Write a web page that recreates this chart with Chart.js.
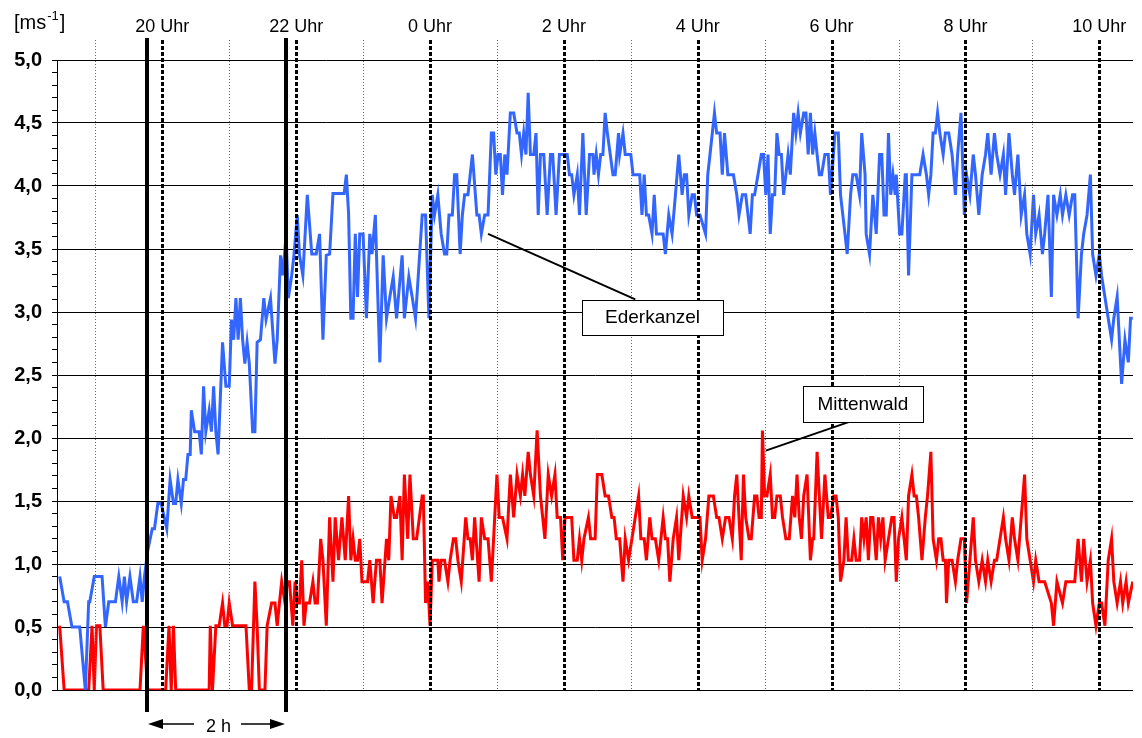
<!DOCTYPE html>
<html>
<head>
<meta charset="utf-8">
<script src="https://cdn.jsdelivr.net/npm/chart.js@4/dist/chart.umd.min.js"></script>
<style>
  html, body { margin: 0; padding: 0; background: #fff; }
  #wrap { width: 1142px; height: 738px; position: relative; }
</style>
</head>
<body>
<div id="wrap"><canvas id="c" width="1142" height="738"></canvas></div>
<script>
// Wind speed [m/s]; time in minutes relative to midnight (negative = previous evening)
const ederkanzel = [
  [-332,0.9],[-328,0.7],[-325,0.7],[-321,0.5],[-314,0.5],[-309,0],[-306,0.7],[-305,0.7],[-301,0.9],[-294,0.9],
  [-291,0.5],[-288,0.7],[-282,0.7],[-279,0.9],[-276,0.7],[-274,0.9],[-272,0.7],[-269,0.9],[-266,0.7],[-263,0.7],
  [-260,0.9],[-258,0.7],[-256,0.9],[-253,1.11],[-249,1.28],[-247,1.28],[-244,1.48],[-241,1.48],[-236,1.28],[-233,1.67],
  [-230,1.48],[-228,1.48],[-226,1.67],[-223,1.48],[-221,1.67],[-219,1.67],[-217,1.87],[-215,1.87],[-214,2.22],[-211,2.05],
  [-207,2.05],[-205,1.87],[-203,2.41],[-201,2.05],[-198,2.22],[-196,2.05],[-194,2.41],[-192,2.05],[-190,1.87],[-186,2.76],
  [-183,2.41],[-180,2.41],[-178,2.94],[-176,2.78],[-174,3.11],[-172,2.78],[-170,3.11],[-168,2.78],[-166,2.59],[-164,2.76],
  [-162,2.59],[-159,2.05],[-157,2.05],[-155,2.76],[-152,2.78],[-149,3.11],[-147,2.94],[-143,3.11],[-139,2.59],[-137,2.78],
  [-134,3.45],[-132,3.29],[-129,3.61],[-127,3.11],[-124,3.29],[-122,3.45],[-119,3.77],[-117,3.45],[-114,3.29],[-110,3.93],
  [-106,3.46],[-102,3.46],[-99,3.62],[-96,2.78],[-93,3.45],[-90,3.46],[-87,3.94],[-77,3.94],[-75,4.09],[-73,3.78],
  [-71,2.95],[-69,2.95],[-67,3.62],[-65,3.12],[-63,3.62],[-60,3.62],[-57,2.95],[-54,3.62],[-52,3.46],[-49,3.77],
  [-48,3.46],[-45,2.6],[-42,3.45],[-39,2.95],[-36,3.12],[-33,3.28],[-30,2.95],[-25,3.45],[-23,2.95],[-19,3.28],
  [-16,3.12],[-13,2.95],[-7,3.77],[-4,3.77],[-1,2.95],[2,3.93],[4,3.77],[7,3.93],[10,3.62],[13,3.46],
  [15,3.46],[17,3.77],[20,3.77],[22,4.09],[24,4.09],[27,3.46],[29,3.77],[31,3.93],[34,3.93],[38,4.25],
  [42,3.77],[44,3.77],[46,3.62],[49,3.77],[52,3.77],[55,4.42],[57,4.42],[59,4.09],[61,4.25],[63,4.25],
  [65,3.93],[67,4.25],[69,4.09],[72,4.58],[75,4.58],[78,4.42],[80,4.42],[82,4.25],[84,4.42],[86,4.25],
  [88,4.74],[90,4.25],[93,4.25],[95,4.42],[97,3.77],[99,4.25],[102,4.25],[105,3.77],[108,4.25],[110,4.25],
  [113,3.77],[116,4.25],[123,4.25],[125,4.09],[127,4.09],[129,3.93],[132,4.09],[134,3.77],[137,4.42],[140,3.77],
  [143,4.25],[146,4.25],[147,4.09],[149,4.25],[151,4.09],[153,4.25],[155,4.25],[157,4.58],[159,4.42],[164,4.09],
  [166,4.09],[169,4.42],[170,4.25],[173,4.42],[175,4.25],[180,4.25],[182,4.09],[188,4.09],[190,3.77],[192,4.09],
  [194,3.77],[196,3.77],[199,3.62],[201,3.93],[203,3.62],[209,3.62],[211,3.46],[214,3.77],[217,3.62],[220,3.93],
  [223,4.25],[226,3.93],[228,4.09],[230,4.09],[232,3.77],[235,3.93],[237,3.93],[239,3.77],[242,3.77],[247,3.62],
  [249,4.09],[251,4.25],[255,4.58],[257,4.42],[260,4.42],[262,4.09],[264,4.42],[267,4.09],[272,4.09],[275,3.93],
  [277,3.77],[280,3.93],[283,3.93],[287,3.62],[289,3.93],[291,3.93],[294,4.09],[297,4.25],[299,4.25],[301,3.93],
  [303,4.25],[305,3.62],[307,3.93],[309,3.93],[311,4.42],[313,4.25],[315,4.25],[317,3.93],[319,4.09],[321,4.25],
  [323,4.09],[326,4.58],[328,4.42],[330,4.58],[332,4.42],[335,4.58],[337,4.58],[339,4.25],[341,4.58],[343,4.25],
  [345,4.42],[347,4.25],[349,4.09],[351,4.09],[354,4.25],[357,4.25],[359,3.93],[363,4.42],[366,4.42],[368,3.93],
  [372,3.62],[374,3.46],[377,3.93],[379,4.09],[382,4.09],[385,3.93],[387,4.42],[390,4.09],[391,3.62],[394,3.46],
  [397,3.93],[400,3.62],[403,4.25],[405,4.25],[407,3.77],[409,3.77],[411,4.42],[413,3.93],[415,4.09],[417,3.93],
  [418,4.09],[421,3.62],[423,3.62],[426,4.09],[427,4.09],[429,3.29],[432,4.09],[439,4.09],[442,4.25],[445,4.09],
  [447,3.93],[449,4.09],[451,4.42],[453,4.42],[455,4.58],[457,4.42],[460,4.25],[462,4.42],[465,4.42],[468,4.25],
  [471,3.93],[473,4.25],[476,4.58],[479,3.77],[481,4.09],[484,3.93],[487,4.25],[489,4.09],[492,3.77],[495,4.09],
  [498,4.25],[500,4.42],[503,4.09],[506,4.42],[508,4.25],[511,4.09],[514,4.25],[516,3.93],[519,4.42],[522,4.09],
  [524,3.93],[527,4.25],[530,3.77],[533,3.93],[535,3.62],[538,3.46],[541,3.93],[543,3.62],[546,3.77],[549,3.46],
  [551,3.62],[554,3.93],[557,3.12],[559,3.93],[562,3.77],[565,3.93],[567,3.77],[570,3.93],[573,3.77],[576,3.93],
  [578,3.93],[581,2.95],[584,3.46],[586,3.62],[589,3.77],[592,4.09],[594,3.46],[597,3.29],[600,3.46],[602,3.29],
  [605,3.12],[608,2.95],[611,2.78],[613,2.95],[616,3.12],[619,2.6],[620,2.43],[623,2.78],[626,2.6],[628,2.95],
  [630,2.95]
];

const mittenwald = [
  [-332,0.51],[-328,0],[-306,0],[-303,0.51],[-301,0],[-299,0.51],[-296,0.51],[-293,0],[-260,0],[-257,0.51],
  [-253,0],[-237,0],[-234,0.51],[-232,0],[-230,0.51],[-228,0],[-198,0],[-197,0.51],[-195,0],[-192,0.51],
  [-189,0.51],[-186,0.69],[-184,0.51],[-182,0.51],[-180,0.69],[-177,0.51],[-165,0.51],[-162,0],[-160,0],[-157,0.86],
  [-155,0.51],[-153,0],[-148,0],[-146,0.51],[-142,0.69],[-139,0.69],[-137,0.51],[-135,0.69],[-133,0.86],[-130,0.69],
  [-128,0.86],[-126,0.86],[-123,0.51],[-121,0.86],[-119,0.69],[-117,0.69],[-115,1.03],[-113,0.51],[-111,0.69],[-108,0.69],
  [-105,0.86],[-103,0.69],[-101,0.69],[-98,1.2],[-96,1.03],[-93,0.51],[-90,1.37],[-87,0.86],[-85,1.37],[-82,1.03],
  [-79,1.37],[-76,1.03],[-73,1.54],[-71,1.03],[-69,1.2],[-67,1.03],[-65,1.03],[-63,1.2],[-61,0.86],[-56,0.86],
  [-54,1.03],[-51,0.69],[-48,1.03],[-45,1.03],[-43,0.69],[-39,1.2],[-37,1.03],[-35,1.54],[-32,1.37],[-30,1.37],
  [-27,1.54],[-25,1.03],[-23,1.71],[-20,1.2],[-18,1.71],[-15,1.2],[-12,1.2],[-7,1.54],[-6,1.54],[-4,0.69],
  [-2,0.86],[0,0.51],[2,1.03],[7,1.03],[8,0.86],[10,1.03],[13,1.03],[16,0.86],[18,1.03],[21,1.2],
  [23,1.2],[25,1.03],[28,0.86],[32,1.37],[34,1.2],[36,1.2],[38,1.03],[40,1.37],[44,0.86],[46,1.37],
  [49,1.2],[52,1.2],[55,0.86],[57,1.2],[60,1.71],[62,1.37],[65,1.37],[69,1.2],[72,1.71],[75,1.37],
  [78,1.71],[81,1.54],[83,1.71],[85,1.54],[88,1.89],[90,1.71],[93,1.54],[96,2.06],[99,1.54],[103,1.2],
  [106,1.71],[109,1.54],[112,1.71],[114,1.37],[117,1.37],[119,1.03],[121,1.37],[127,1.37],[129,1.03],[132,1.03],
  [134,1.2],[136,1.03],[138,1.2],[142,1.37],[144,1.2],[148,1.2],[150,1.71],[154,1.71],[157,1.54],[160,1.54],
  [163,1.37],[165,1.37],[167,1.2],[170,1.2],[173,0.86],[175,1.2],[178,1.03],[181,1.2],[184,1.37],[187,1.54],
  [189,1.2],[192,1.2],[194,1.03],[197,1.37],[199,1.2],[202,1.2],[205,1.03],[209,1.37],[211,1.2],[213,1.2],
  [215,0.86],[218,1.2],[221,1.37],[223,1.03],[227,1.54],[230,1.37],[232,1.54],[235,1.37],[242,1.37],[244,1.03],
  [247,1.2],[250,1.54],[254,1.54],[257,1.37],[259,1.37],[262,1.2],[265,1.37],[268,1.37],[271,1.2],[273,1.54],
  [275,1.71],[279,1.03],[281,1.71],[283,1.37],[286,1.2],[288,1.2],[291,1.54],[293,1.54],[295,1.37],[297,1.37],
  [298,2.06],[300,1.54],[302,1.54],[305,1.71],[307,1.37],[309,1.37],[311,1.54],[314,1.54],[316,1.37],[319,1.2],
  [322,1.2],[325,1.54],[327,1.37],[329,1.71],[331,1.37],[333,1.2],[335,1.54],[338,1.71],[341,1.03],[343,1.2],
  [344,1.2],[347,1.89],[349,1.54],[351,1.2],[354,1.71],[357,1.37],[359,1.37],[362,1.54],[364,1.54],[366,1.37],
  [368,0.86],[371,1.03],[373,1.37],[375,1.03],[378,1.03],[380,1.2],[382,1.03],[385,1.03],[387,1.37],[389,1.2],
  [391,1.37],[393,1.03],[395,1.37],[397,1.37],[400,1.03],[402,1.37],[404,1.2],[406,1.37],[408,1.03],[411,1.2],
  [414,1.37],[416,1.37],[418,0.86],[420,1.2],[423,1.37],[425,1.2],[427,1.03],[429,1.54],[432,1.71],[434,1.54],
  [436,1.54],[438,1.37],[441,1.03],[444,1.37],[446,1.54],[449,1.89],[451,1.2],[454,1.03],[456,1.2],[458,1.2],
  [460,1.03],[462,1.03],[463,0.69],[465,1.03],[468,1.03],[471,0.86],[473,1.03],[476,1.2],[479,1.2],[481,0.69],
  [484,1.03],[487,1.37],[489,1.03],[492,0.86],[495,1.03],[498,0.86],[500,1.03],[503,0.86],[506,1.03],[508,1.03],
  [511,1.2],[514,1.37],[516,1.2],[519,1.03],[522,1.37],[524,1.2],[527,1.03],[530,1.37],[533,1.71],[535,1.2],
  [538,1.03],[541,0.86],[543,1.03],[546,0.86],[551,0.86],[557,0.69],[559,0.51],[562,0.86],[567,0.69],[570,0.86],
  [578,0.86],[581,1.2],[584,0.86],[586,1.2],[589,0.86],[592,1.03],[594,0.69],[597,0.51],[600,0.69],[602,0.69],
  [605,0.51],[608,1.03],[611,1.2],[613,0.86],[616,0.69],[619,0.86],[621,0.69],[624,0.86],[626,0.69],[630,0.86]
];

// Labelled clock hours on the top axis (minutes relative to midnight)
const hourTicks = [-240, -120, 0, 120, 240, 360, 480, 600];
// Hourly guide lines, from 19 Uhr to 10 Uhr
const hourLines = [-300, -240, -180, -120, -60, 0, 60, 120, 180, 240, 300, 360, 420, 480, 540, 600];
// Speed ticks every 0.1 m/s, labelled every 0.5 m/s
const speedTicks = Array.from({ length: 51 }, (_, i) => i / 10);
// Start and end of the marked two-hour window
const windowEdges = [-254, -129];
const windowLabel = '2 h';
// Station callouts: tip of the pointer, end of the pointer, box centre (time, speed)
const callouts = [
  { text: 'Ederkanzel', tip: [52, 3.62], end: [184, 3.10], center: [199.5, 2.96], w: 141, h: 35 },
  { text: 'Mittenwald', tip: [301, 1.90], end: [376.5, 2.13], center: [388, 2.27], w: 120, h: 36 }
];

const FONT = "'Liberation Sans', Arial, Helvetica, sans-serif";
const toXY = rows => rows.map(([t, v]) => ({ x: t, y: v }));
const isMajor = v => Math.abs(v * 2 - Math.round(v * 2)) < 1e-6;
const hourLabel = m => (((Math.round(m / 60)) % 24 + 24) % 24) + ' Uhr';

const decorations = {
  id: 'decorations',
  afterDatasetsDraw(chart) {
    const { ctx, chartArea: a, scales: { x, y } } = chart;
    ctx.save();

    // hourly guide lines: heavy dotted on even hours, fine dotted on odd hours
    hourLines.forEach(m => {
      const px = Math.round(x.getPixelForValue(m)) + 0.5;
      const even = (m / 60) % 2 === 0;
      ctx.beginPath();
      ctx.setLineDash(even ? [4, 2] : [1, 2]);
      ctx.lineWidth = even ? 3 : 1;
      ctx.strokeStyle = even ? '#000' : '#666';
      ctx.moveTo(px, a.top - 20);
      ctx.lineTo(px, a.bottom);
      ctx.stroke();
    });
    ctx.setLineDash([]);

    // two-hour window edges with the span arrow below the axis
    const xs = windowEdges.map(m => Math.round(x.getPixelForValue(m)));
    ctx.strokeStyle = '#000';
    ctx.lineWidth = 4;
    xs.forEach(px => {
      ctx.beginPath();
      ctx.moveTo(px, a.top - 22);
      ctx.lineTo(px, a.bottom + 22);
      ctx.stroke();
    });
    const ay = a.bottom + 34;
    ctx.font = `18px ${FONT}`;
    ctx.fillStyle = '#000';
    ctx.textAlign = 'center';
    ctx.textBaseline = 'middle';
    const mid = (xs[0] + xs[1]) / 2;
    const tw = ctx.measureText(windowLabel).width;
    ctx.fillText(windowLabel, mid + 2, ay + 3);
    ctx.lineWidth = 1.5;
    ctx.beginPath();
    ctx.moveTo(xs[0] + 14, ay); ctx.lineTo(mid - tw / 2 - 10, ay);
    ctx.moveTo(mid + tw / 2 + 12, ay); ctx.lineTo(xs[1] - 14, ay);
    ctx.stroke();
    ctx.beginPath();
    ctx.moveTo(xs[0] + 1, ay); ctx.lineTo(xs[0] + 16, ay - 5); ctx.lineTo(xs[0] + 16, ay + 5); ctx.closePath();
    ctx.moveTo(xs[1] - 1, ay); ctx.lineTo(xs[1] - 16, ay - 5); ctx.lineTo(xs[1] - 16, ay + 5); ctx.closePath();
    ctx.fill();

    // station callouts
    callouts.forEach(c => {
      const tx = x.getPixelForValue(c.tip[0]), ty = y.getPixelForValue(c.tip[1]);
      const ex = x.getPixelForValue(c.end[0]), ey = y.getPixelForValue(c.end[1]);
      const cx = x.getPixelForValue(c.center[0]), cy = y.getPixelForValue(c.center[1]);
      ctx.lineWidth = 2;
      ctx.strokeStyle = '#000';
      ctx.beginPath(); ctx.moveTo(tx, ty); ctx.lineTo(ex, ey); ctx.stroke();
      const bx = Math.round(cx - c.w / 2) + 0.5, by = Math.round(cy - c.h / 2) + 0.5;
      ctx.fillStyle = '#fff';
      ctx.fillRect(bx, by, c.w, c.h);
      ctx.lineWidth = 1;
      ctx.strokeRect(bx, by, c.w, c.h);
      ctx.fillStyle = '#000';
      ctx.font = `19px ${FONT}`;
      ctx.textAlign = 'center';
      ctx.textBaseline = 'middle';
      ctx.fillText(c.text, cx, cy + 1);
    });

    // unit label in the top-left corner
    ctx.textAlign = 'left';
    ctx.textBaseline = 'alphabetic';
    ctx.font = `20px ${FONT}`;
    let ux = 14;
    const uy = 29;
    ctx.fillText('[ms', ux, uy);
    ux += ctx.measureText('[ms').width + 1;
    ctx.font = `13px ${FONT}`;
    ctx.fillText('-1', ux, uy - 9);
    ux += ctx.measureText('-1').width + 1;
    ctx.font = `20px ${FONT}`;
    ctx.fillText(']', ux, uy);

    ctx.restore();
  }
};

new Chart(document.getElementById('c'), {
  type: 'line',
  data: {
    datasets: [
      { label: 'Ederkanzel', data: toXY(ederkanzel), borderColor: '#3366ff', borderWidth: 3,
        pointRadius: 0, tension: 0, fill: false },
      { label: 'Mittenwald', data: toXY(mittenwald), borderColor: '#ff0000', borderWidth: 3,
        pointRadius: 0, tension: 0, fill: false }
    ]
  },
  options: {
    responsive: false,
    animation: false,
    devicePixelRatio: 1,
    layout: { padding: { left: 0, right: 9, top: 0, bottom: 48 } },
    plugins: { legend: { display: false }, tooltip: { enabled: false } },
    scales: {
      x: {
        type: 'linear',
        position: 'top',
        min: -334.4,
        max: 630.2,
        afterBuildTicks: s => { s.ticks = hourTicks.map(v => ({ value: v })); },
        afterFit: s => { s.height = 60; s.paddingLeft = 0; s.paddingRight = 0; },
        grid: { display: false, drawTicks: false },
        border: { display: false },
        ticks: {
          autoSkip: false, maxRotation: 0, padding: 22, color: '#000',
          font: { family: FONT, size: 18 },
          callback: v => hourLabel(v)
        }
      },
      y: {
        min: 0,
        max: 5,
        afterBuildTicks: s => { s.ticks = speedTicks.map(v => ({ value: v })); },
        afterFit: s => { s.width = 57; },
        grid: {
          color: c => (c.tick && isMajor(c.tick.value)) ? '#000' : 'rgba(0,0,0,0)',
          tickColor: '#000', tickLength: 5, lineWidth: 1
        },
        border: { color: '#000', width: 1 },
        ticks: {
          padding: 10, color: '#000', autoSkip: false,
          font: { family: FONT, size: 20, weight: 'bold' },
          callback: v => isMajor(v) ? v.toFixed(1).replace('.', ',') : ''
        }
      }
    }
  },
  plugins: [decorations]
});
</script>
</body>
</html>
